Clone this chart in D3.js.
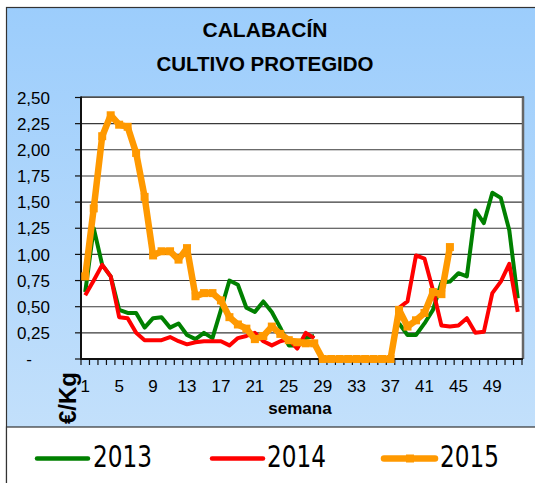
<!DOCTYPE html>
<html>
<head>
<meta charset="utf-8">
<script src="https://cdn.jsdelivr.net/npm/d3@7"></script>
<style>
  body { margin: 0; background: #fff; }
  svg { display: block; font-family: "Liberation Sans", Arial, sans-serif; }
</style>
</head>
<body>
<svg id="chart" width="535" height="483"></svg>
<script>
const weeks = d3.range(1, 53);
const weekLabels = [1, 5, 9, 13, 17, 21, 25, 29, 33, 37, 41, 45, 49];
const yTicks = [0, 0.25, 0.5, 0.75, 1, 1.25, 1.5, 1.75, 2, 2.25, 2.5];

const N = null;
const v2013 = [0.64, 1.25, 0.90, 0.79, 0.47, 0.44, 0.44, 0.30, 0.39, 0.40,
  0.30, 0.34, 0.23, 0.19, 0.25, 0.20, 0.47, 0.75, 0.71, 0.49,
  0.45, 0.55, 0.45, 0.30, 0.13, 0.13, 0.20, 0.22, N, N,
  N, N, N, N, N, N, N, 0.34, 0.23, 0.23,
  0.34, 0.47, 0.73, 0.74, 0.82, 0.79, 1.42, 1.30, 1.59, 1.54,
  1.23, 0.58];
const v2014 = [0.61, 0.75, 0.90, 0.79, 0.40, 0.39, 0.25, 0.18, 0.18, 0.18,
  0.21, 0.17, 0.14, 0.16, 0.17, 0.17, 0.17, 0.13, 0.20, 0.22,
  0.25, 0.17, 0.13, 0.17, 0.19, 0.10, 0.25, 0.20, N, N,
  N, N, N, N, N, N, N, 0.49, 0.55, 0.99,
  0.96, 0.66, 0.32, 0.31, 0.32, 0.39, 0.25, 0.26, 0.63, 0.74,
  0.91, 0.45];
const v2015 = [0.79, 1.44, 2.13, 2.33, 2.24, 2.22, 1.97, 1.55, 0.99, 1.03,
  1.03, 0.95, 1.06, 0.60, 0.63, 0.63, 0.56, 0.40, 0.33, 0.29,
  0.19, 0.22, 0.31, 0.24, 0.18, 0.16, 0.15, 0.15, 0, 0,
  0, 0, 0, 0, 0, 0, 0, 0.47, 0.31, 0.37,
  0.44, 0.64, 0.62, 1.07];

const series = [
  {name: "2013", values: v2013, color: "#008000", width: 4, marker: false},
  {name: "2014", values: v2014, color: "#ff0000", width: 4, marker: false},
  {name: "2015", values: v2015, color: "#ff9900", width: 6.5, marker: true}
];

const svg = d3.select("#chart");

// background
const grad = svg.append("defs").append("linearGradient")
  .attr("id", "bg").attr("x1", 0).attr("y1", 0).attr("x2", 0).attr("y2", 1);
grad.append("stop").attr("offset", "0%").attr("stop-color", "#9ccdfc");
grad.append("stop").attr("offset", "100%").attr("stop-color", "#c9e3fb");

svg.append("rect").attr("x", 6.5).attr("y", 7.5).attr("width", 540).attr("height", 490)
  .attr("fill", "url(#bg)").attr("stroke", "#333").attr("stroke-width", 1.2);

const plotL = 81, plotR = 522, plotT = 97.5, plotB = 359;

const x = d3.scaleBand().domain(weeks).range([plotL, plotR]);
const xc = w => x(w) + x.bandwidth() / 2;
const y = d3.scaleLinear().domain([0, 2.5]).range([plotB, plotT]);

svg.append("rect").attr("x", plotL).attr("y", plotT)
  .attr("width", plotR - plotL).attr("height", plotB - plotT).attr("fill", "#fff");

// gridlines
svg.append("g").selectAll("line").data(yTicks.slice(1)).join("line")
  .attr("x1", plotL).attr("x2", plotR)
  .attr("y1", d => y(d)).attr("y2", d => y(d))
  .attr("stroke", "#3a3a3a").attr("stroke-width", 1.1);

// right & top borders
svg.append("line").attr("x1", plotR + 1).attr("x2", plotR + 1).attr("y1", plotT - 1).attr("y2", plotB)
  .attr("stroke", "#666").attr("stroke-width", 2.5);
svg.append("line").attr("x1", plotL).attr("x2", plotR + 2).attr("y1", plotT - 0.5).attr("y2", plotT - 0.5)
  .attr("stroke", "#555").attr("stroke-width", 1.5);

// y axis
const yAxis = svg.append("g");
yAxis.append("line").attr("x1", plotL).attr("x2", plotL).attr("y1", plotT - 1).attr("y2", plotB + 1)
  .attr("stroke", "#111").attr("stroke-width", 2);
yAxis.selectAll(".tk").data(yTicks).join("line").attr("class", "tk")
  .attr("x1", plotL - 6).attr("x2", plotL).attr("y1", d => y(d)).attr("y2", d => y(d))
  .attr("stroke", "#111").attr("stroke-width", 1.2);
yAxis.selectAll("text").data(yTicks).join("text")
  .attr("x", d => d === 0 ? 32 : 50)
  .attr("y", d => y(d)).attr("dy", "0.36em")
  .attr("text-anchor", "end").attr("font-size", 17).attr("fill", "#000")
  .text(d => d === 0 ? "-" : d3.format(".2f")(d).replace(".", ","));

// x axis
const xAxis = svg.append("g");
xAxis.append("line").attr("x1", plotL - 1).attr("x2", plotR + 1).attr("y1", plotB).attr("y2", plotB)
  .attr("stroke", "#111").attr("stroke-width", 2);
xAxis.selectAll(".tk").data(d3.range(0, 53)).join("line").attr("class", "tk")
  .attr("x1", i => plotL + i * x.bandwidth()).attr("x2", i => plotL + i * x.bandwidth())
  .attr("y1", plotB).attr("y2", plotB + 6)
  .attr("stroke", "#111").attr("stroke-width", 1.2);
xAxis.selectAll("text").data(weekLabels).join("text")
  .attr("x", d => xc(d)).attr("y", 391.5)
  .attr("text-anchor", "middle").attr("font-size", 17).attr("fill", "#000")
  .text(d => d);

// lines
const line = d3.line()
  .defined(d => d.v !== null)
  .x(d => xc(d.w)).y(d => y(d.v));

series.forEach(s => {
  const pts = s.values.map((v, i) => ({w: weeks[i], v: v}));
  svg.append("path").datum(pts)
    .attr("fill", "none").attr("stroke", s.color).attr("stroke-width", s.width)
    .attr("stroke-linejoin", "round").attr("d", line);
  if (s.marker) {
    svg.append("g").selectAll("rect").data(pts.filter(d => d.v !== null)).join("rect")
      .attr("x", d => xc(d.w) - 4).attr("y", d => y(d.v) - 4)
      .attr("width", 8).attr("height", 8).attr("fill", s.color);
  }
});

// titles
svg.append("text").attr("x", 265).attr("y", 37).attr("text-anchor", "middle")
  .attr("font-size", 21).attr("font-weight", "bold").attr("textLength", 125)
  .attr("lengthAdjust", "spacingAndGlyphs").text("CALABACÍN");
svg.append("text").attr("x", 265).attr("y", 70.5).attr("text-anchor", "middle")
  .attr("font-size", 21).attr("font-weight", "bold").attr("textLength", 217)
  .attr("lengthAdjust", "spacingAndGlyphs").text("CULTIVO PROTEGIDO");

svg.append("text").attr("x", 300).attr("y", 414).attr("text-anchor", "middle")
  .attr("font-size", 17).attr("font-weight", "bold").text("semana");

svg.append("text").attr("transform", "translate(76,398) rotate(-90)")
  .attr("text-anchor", "middle").attr("font-size", 24).attr("font-weight", "bold")
  .text("€/Kg");

// legend box
svg.append("rect").attr("x", 6.5).attr("y", 427).attr("width", 540).attr("height", 70)
  .attr("fill", "#fff").attr("stroke", "#333").attr("stroke-width", 1.2);

const legendX = [[37, 93], [212, 267], [384, 440]];
const lg = svg.append("g").selectAll("g").data(series).join("g");
lg.append("line")
  .attr("x1", (d, i) => legendX[i][0]).attr("x2", (d, i) => legendX[i][0] + 51)
  .attr("y1", 458.5).attr("y2", 458.5)
  .attr("stroke", d => d.color).attr("stroke-width", d => d.marker ? 6.5 : 4.5)
  .attr("stroke-linecap", "round");
lg.filter(d => d.marker).append("rect")
  .attr("x", legendX[2][0] + 22).attr("y", 454.5).attr("width", 8).attr("height", 8)
  .attr("fill", d => d.color);
lg.append("text")
  .attr("x", (d, i) => legendX[i][1]).attr("y", 467)
  .attr("font-family", "DejaVu Sans").attr("font-size", 30)
  .attr("textLength", 59).attr("lengthAdjust", "spacingAndGlyphs")
  .text(d => d.name);
</script>
</body>
</html>
